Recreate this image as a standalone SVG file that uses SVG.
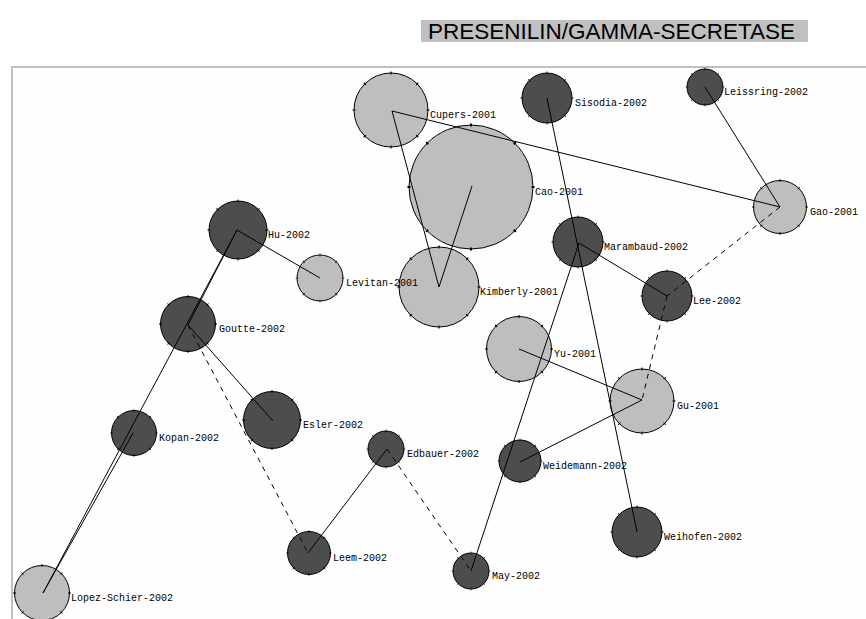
<svg xmlns="http://www.w3.org/2000/svg" width="866" height="619" viewBox="0 0 866 619">
<style>
.bg{fill:#ffffff}
.frame{fill:#fefefe;stroke:#c0c0c0;stroke-width:2}
.tbox{fill:#c0c0c0}
.title{font-family:"Liberation Sans",Arial,sans-serif;font-size:22px;fill:#000}
.lt{fill:#bebebe;stroke:#000;stroke-width:1}
.dk{fill:#4d4d4d;stroke:#000;stroke-width:1}
.tick{fill:none;stroke:#000;stroke-width:3;stroke-dasharray:0.04 0.96;stroke-dashoffset:0.02}
.lbl{font-family:"Liberation Mono","DejaVu Sans Mono",monospace;font-size:10px;fill:#000}
.e{stroke:#000;stroke-width:1;fill:none}
.d{stroke:#000;stroke-width:1;fill:none;stroke-dasharray:5 5}
</style>
<rect class="bg" x="0" y="0" width="866" height="619"/>
<rect class="tbox" x="421" y="20" width="387" height="22"/>
<text class="title" x="428" y="39" textLength="367" lengthAdjust="spacingAndGlyphs">PRESENILIN/GAMMA-SECRETASE</text>
<rect class="frame" x="12" y="67" width="900" height="600"/>

<g id="n-cupers"><circle class="lt" cx="391" cy="110" r="37"/><circle class="tick" cx="391" cy="110" r="37" pathLength="8"/><text class="lbl" x="430" y="118">Cupers-2001</text></g>
<g id="n-cao"><circle class="lt" cx="471" cy="187" r="62"/><circle class="tick" cx="471" cy="187" r="62" pathLength="8"/><text class="lbl" x="535" y="195">Cao-2001</text></g>
<g id="n-sisodia"><circle class="dk" cx="547" cy="98" r="25"/><circle class="tick" cx="547" cy="98" r="25" pathLength="8"/><text class="lbl" x="575" y="106">Sisodia-2002</text></g>
<g id="n-leissring"><circle class="dk" cx="705" cy="87" r="18"/><circle class="tick" cx="705" cy="87" r="18" pathLength="8"/><text class="lbl" x="724" y="95">Leissring-2002</text></g>
<g id="n-gao"><circle class="lt" cx="780" cy="207" r="26.5"/><circle class="tick" cx="780" cy="207" r="26.5" pathLength="8"/><text class="lbl" x="810" y="215">Gao-2001</text></g>
<g id="n-hu"><circle class="dk" cx="238" cy="230" r="29"/><circle class="tick" cx="238" cy="230" r="29" pathLength="8"/><text class="lbl" x="268" y="238">Hu-2002</text></g>
<g id="n-kimberly"><circle class="lt" cx="439" cy="287" r="40"/><circle class="tick" cx="439" cy="287" r="40" pathLength="8"/><text class="lbl" x="480" y="295">Kimberly-2001</text></g>
<g id="n-levitan"><circle class="lt" cx="320" cy="278" r="23"/><circle class="tick" cx="320" cy="278" r="23" pathLength="8"/><text class="lbl" x="346" y="286">Levitan-2001</text></g>
<g id="n-marambaud"><circle class="dk" cx="578" cy="242" r="25"/><circle class="tick" cx="578" cy="242" r="25" pathLength="8"/><text class="lbl" x="604" y="250">Marambaud-2002</text></g>
<g id="n-lee"><circle class="dk" cx="667" cy="296" r="25"/><circle class="tick" cx="667" cy="296" r="25" pathLength="8"/><text class="lbl" x="693" y="304">Lee-2002</text></g>
<g id="n-goutte"><circle class="dk" cx="188" cy="324" r="27.5"/><circle class="tick" cx="188" cy="324" r="27.5" pathLength="8"/><text class="lbl" x="219" y="332">Goutte-2002</text></g>
<g id="n-yu"><circle class="lt" cx="519" cy="349" r="32.5"/><circle class="tick" cx="519" cy="349" r="32.5" pathLength="8"/><text class="lbl" x="554" y="357">Yu-2001</text></g>
<g id="n-gu"><circle class="lt" cx="642" cy="401" r="32"/><circle class="tick" cx="642" cy="401" r="32" pathLength="8"/><text class="lbl" x="677" y="409">Gu-2001</text></g>
<g id="n-esler"><circle class="dk" cx="272" cy="420" r="28.5"/><circle class="tick" cx="272" cy="420" r="28.5" pathLength="8"/><text class="lbl" x="303" y="428">Esler-2002</text></g>
<g id="n-kopan"><circle class="dk" cx="134" cy="433" r="22.5"/><circle class="tick" cx="134" cy="433" r="22.5" pathLength="8"/><text class="lbl" x="159" y="441">Kopan-2002</text></g>
<g id="n-edbauer"><circle class="dk" cx="386" cy="449" r="18"/><circle class="tick" cx="386" cy="449" r="18" pathLength="8"/><text class="lbl" x="407" y="457">Edbauer-2002</text></g>
<g id="n-weidemann"><circle class="dk" cx="520" cy="461" r="21"/><circle class="tick" cx="520" cy="461" r="21" pathLength="8"/><text class="lbl" x="543" y="469">Weidemann-2002</text></g>
<g id="n-weihofen"><circle class="dk" cx="637" cy="532" r="25"/><circle class="tick" cx="637" cy="532" r="25" pathLength="8"/><text class="lbl" x="664" y="540">Weihofen-2002</text></g>
<g id="n-leem"><circle class="dk" cx="309" cy="553" r="21.5"/><circle class="tick" cx="309" cy="553" r="21.5" pathLength="8"/><text class="lbl" x="333" y="561">Leem-2002</text></g>
<g id="n-may"><circle class="dk" cx="471" cy="571" r="18"/><circle class="tick" cx="471" cy="571" r="18" pathLength="8"/><text class="lbl" x="492" y="579">May-2002</text></g>
<g id="n-lopez"><circle class="lt" cx="42" cy="593" r="27.5"/><circle class="tick" cx="42" cy="593" r="27.5" pathLength="8"/><text class="lbl" x="71" y="601">Lopez-Schier-2002</text></g>

<g id="connectors">
<line class="e" x1="392" y1="111" x2="780" y2="207"/>
<line class="e" x1="392" y1="111" x2="439" y2="287"/>
<line class="e" x1="472" y1="186" x2="439" y2="287"/>
<line class="e" x1="705" y1="87" x2="780" y2="207"/>
<line class="e" x1="547" y1="98" x2="637" y2="532"/>
<line class="e" x1="579" y1="243" x2="667" y2="296"/>
<line class="e" x1="579" y1="243" x2="471" y2="571"/>
<line class="e" x1="237" y1="230" x2="320" y2="278"/>
<line class="e" x1="237" y1="230" x2="188" y2="325"/>
<line class="e" x1="237" y1="230" x2="43" y2="593"/>
<line class="e" x1="133" y1="433" x2="43" y2="593"/>
<line class="e" x1="188" y1="325" x2="273" y2="421"/>
<line class="e" x1="387" y1="449" x2="308" y2="553"/>
<line class="e" x1="519" y1="349" x2="642" y2="400"/>
<line class="e" x1="520" y1="462" x2="642" y2="400"/>
<line class="d" x1="780" y1="207" x2="667" y2="296"/>
<line class="d" x1="667" y1="296" x2="642" y2="400"/>
<line class="d" x1="188" y1="325" x2="308" y2="553"/>
<line class="d" x1="387" y1="449" x2="471" y2="571"/>
</g>
</svg>
